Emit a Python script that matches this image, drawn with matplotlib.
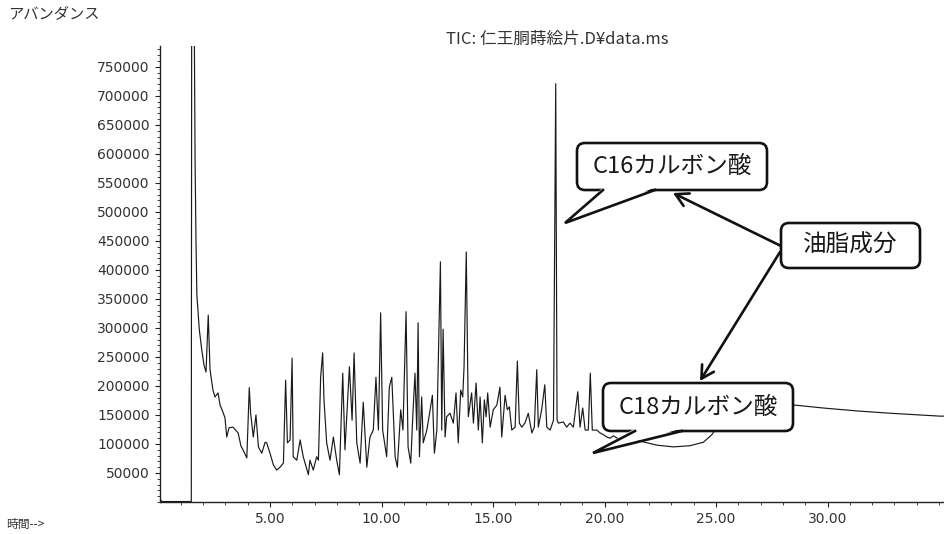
import matplotlib
matplotlib.use('Agg')
import matplotlib.pyplot as plt
from matplotlib.patches import FancyBboxPatch, Polygon, FancyArrowPatch
from matplotlib.lines import Line2D
from matplotlib.transforms import Affine2D
from matplotlib.ticker import MultipleLocator, FormatStrFormatter

W, H = 944, 534
jp = ['Noto Sans CJK JP', 'DejaVu Sans']

# TIC trace: retention time (min) and abundance
time_min = [0.07, 0.15, 1.46, 1.47, 1.49, 1.58, 1.64, 1.68, 1.72, 1.83,
            1.94, 2.04, 2.13, 2.23, 2.31, 2.44, 2.53, 2.67, 2.76, 2.89,
            2.98, 3.06, 3.16, 3.34, 3.57, 3.70, 3.79, 3.96, 4.07, 4.13,
            4.25, 4.37, 4.48, 4.63, 4.78, 4.85, 5.00, 5.15, 5.30, 5.45,
            5.60, 5.70, 5.78, 5.90, 5.99, 6.04, 6.20, 6.35, 6.49, 6.72,
            6.79, 6.94, 7.09, 7.17, 7.27, 7.36, 7.42, 7.54, 7.69, 7.84,
            7.99, 8.11, 8.26, 8.36, 8.56, 8.68, 8.77, 8.89, 9.04, 9.18,
            9.34, 9.48, 9.63, 9.75, 9.86, 9.96, 10.05, 10.23, 10.35, 10.46,
            10.61, 10.71, 10.86, 10.96, 11.10, 11.19, 11.31, 11.40, 11.50, 11.58,
            11.64, 11.70, 11.80, 11.87, 12.03, 12.13, 12.28, 12.37, 12.48, 12.64,
            12.70, 12.76, 12.85, 12.92, 13.07, 13.22, 13.34, 13.44, 13.55, 13.64,
            13.70, 13.80, 13.89, 14.04, 14.12, 14.24, 14.34, 14.42, 14.52, 14.61,
            14.69, 14.76, 14.87, 15.01, 15.17, 15.31, 15.39, 15.54, 15.64, 15.73,
            15.84, 15.99, 16.09, 16.18, 16.29, 16.43, 16.58, 16.74, 16.85, 16.96,
            17.03, 17.18, 17.32, 17.41, 17.56, 17.71, 17.81, 17.87, 17.93, 18.15,
            18.30, 18.45, 18.60, 18.80, 18.90, 19.02, 19.13, 19.27, 19.36, 19.45,
            19.65, 19.80, 19.95, 20.10, 20.25, 20.40, 20.70, 21.14, 21.59, 22.34,
            23.09, 23.83, 24.43, 24.81, 24.96, 25.63, 26.52, 27.65, 28.54, 29.81,
            31.31, 32.80, 35.04, 35.22]
abundance = [5000, 800, 800, 800, 980000, 980000, 590000, 452000, 357000, 297000,
             262000, 236000, 224000, 322000, 228000, 193000, 181000, 188000, 167000, 155000,
             145000, 112000, 128000, 129000, 119000, 96000, 90000, 76000, 197000, 153000,
             112000, 150000, 95000, 84000, 103000, 102000, 84000, 64000, 55000, 60000,
             67000, 210000, 102000, 107000, 248000, 78000, 72000, 107000, 78000, 47000,
             72000, 55000, 78000, 72000, 215000, 257000, 176000, 102000, 72000, 112000,
             72000, 47000, 222000, 90000, 233000, 141000, 257000, 102000, 67000, 172000,
             60000, 112000, 124000, 215000, 124000, 326000, 124000, 78000, 198000, 215000,
             78000, 60000, 159000, 124000, 328000, 95000, 67000, 147000, 222000, 124000,
             309000, 78000, 181000, 102000, 124000, 147000, 184000, 84000, 124000, 414000,
             124000, 298000, 112000, 147000, 153000, 136000, 188000, 102000, 193000, 181000,
             233000, 431000, 147000, 188000, 136000, 205000, 124000, 181000, 102000, 176000,
             147000, 188000, 129000, 159000, 167000, 198000, 112000, 184000, 159000, 164000,
             124000, 129000, 243000, 136000, 129000, 136000, 153000, 119000, 129000, 228000,
             129000, 159000, 202000, 129000, 124000, 141000, 721000, 141000, 136000, 138000,
             129000, 136000, 129000, 190000, 129000, 162000, 124000, 124000, 222000, 124000,
             124000, 119000, 116000, 112000, 110000, 114000, 107000, 107000, 105000, 98000,
             95000, 97000, 103000, 116000, 124000, 141000, 157000, 166000, 167000, 162000,
             157000, 153000, 148000, 148000]

x_ticks = [5, 10, 15, 20, 25, 30]
y_ticks = [50000, 100000, 150000, 200000, 250000, 300000, 350000, 400000,
           450000, 500000, 550000, 600000, 650000, 700000, 750000]

title = 'TIC: 仁王胴蒔絵片.D¥data.ms'
c16_label = 'C16カルボン酸'
c18_label = 'C18カルボン酸'
oil_label = '油脂成分'

fig = plt.figure(figsize=(W / 100, H / 100), dpi=100)
ax = fig.add_axes([160 / W, (H - 502) / H, (W - 160) / W, (502 - 46) / H])

ax.plot(time_min, abundance, color='#1a1a1a', lw=0.85)
ax.set_xlim(0.067, 35.22)
ax.set_ylim(0, 786000)

for side in ['top', 'right']:
    ax.spines[side].set_visible(False)
for side in ['left', 'bottom']:
    ax.spines[side].set_linewidth(1.0)
    ax.spines[side].set_color('#222222')

ax.set_xticks(x_ticks)
ax.xaxis.set_major_formatter(FormatStrFormatter('%.2f'))
ax.xaxis.set_minor_locator(MultipleLocator(1))
ax.set_yticks(y_ticks)
ax.yaxis.set_major_formatter(FormatStrFormatter('%d'))
ax.yaxis.set_minor_locator(MultipleLocator(10000))
ax.tick_params(axis='both', which='major', length=3.5, width=0.8,
               labelsize=10, labelcolor='#333333', color='#222222')
ax.tick_params(axis='both', which='minor', length=2, width=0.6, color='#222222')
ax.tick_params(axis='x', which='major', pad=4)
ax.tick_params(axis='y', which='major', pad=4)

# pixel coordinates, origin at top-left of the image
pix = Affine2D().scale(1 / W, -1 / H).translate(0, 1) + fig.transFigure

fig.text(557 / W, 1 - 39 / H, title, ha='center', va='center',
         fontsize=12, color='#333333', family=jp)
fig.text(8 / W, 1 - 14 / H, 'アバンダンス', ha='left', va='center',
         fontsize=11, color='#333333', family=jp)
fig.text(6 / W, 1 - 524 / H, '時間-->', ha='left', va='center',
         fontsize=8.5, color='#333333', family=jp)


def callout(x0, y0, x1, y1, text, tail=None):
    box = FancyBboxPatch((x0, y0), x1 - x0, y1 - y0,
                         boxstyle='round,pad=0,rounding_size=8',
                         transform=pix, facecolor='white',
                         edgecolor='#111111', lw=1.9, zorder=5)
    fig.add_artist(box)
    if tail is not None:
        bx1, bx2, tip = tail
        cover = Polygon([(bx1, y1 - 2.5), (bx2, y1 - 2.5), tip], closed=True,
                        transform=pix, facecolor='white', edgecolor='none',
                        zorder=6)
        fig.add_artist(cover)
        edge = Line2D([bx1, tip[0], bx2], [y1, tip[1], y1], transform=pix,
                      color='#111111', lw=1.9, zorder=6,
                      solid_joinstyle='miter')
        fig.add_artist(edge)
    fig.text((x0 + x1) / 2 / W, 1 - (y0 + y1) / 2 / H, text,
             ha='center', va='center', fontsize=17, color='#1a1a1a',
             family=jp, zorder=7)


callout(577, 143, 767, 190, c16_label, tail=(603, 655, (565, 223)))
callout(603, 383, 793, 431, c18_label, tail=(635, 682, (593, 453)))
callout(781, 223, 920, 268, oil_label)

for start, end in [((781, 246), (673, 193)), ((780, 252), (700, 381))]:
    arrow = FancyArrowPatch(start, end, transform=pix,
                            arrowstyle='->,head_length=0.45,head_width=0.25',
                            mutation_scale=20, lw=1.9, color='#111111',
                            shrinkA=0, shrinkB=0, zorder=4)
    fig.add_artist(arrow)

fig.savefig('out.png', dpi=100)
